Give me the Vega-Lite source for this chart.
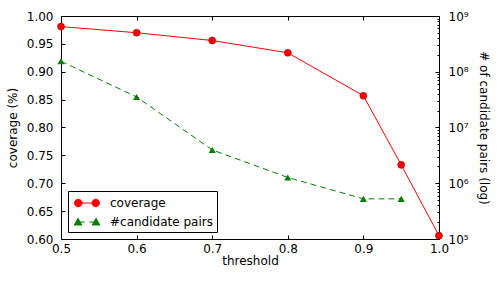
{
  "$schema": "https://vega.github.io/schema/vega-lite/v6.json",
  "width": 378,
  "height": 223,
  "autosize": "none",
  "padding": {"left": 61, "top": 16, "right": 60, "bottom": 42},
  "config": {
    "font": "DejaVu Sans",
    "view": {"stroke": "black", "strokeWidth": 1},
    "axis": {
      "grid": false,
      "labelFlush": false,
      "domainColor": "black",
      "tickColor": "black",
      "labelColor": "black",
      "titleColor": "black",
      "labelFontSize": 12,
      "titleFontSize": 12,
      "titleFontWeight": "normal",
      "labelFont": "DejaVu Sans",
      "titleFont": "DejaVu Sans"
    }
  },
  "data": {
    "values": [
      {"threshold": 0.5, "coverage": 0.981, "pairs": 154000000},
      {"threshold": 0.6, "coverage": 0.970, "pairs": 35300000},
      {"threshold": 0.7, "coverage": 0.956, "pairs": 3970000},
      {"threshold": 0.8, "coverage": 0.934, "pairs": 1270000},
      {"threshold": 0.9, "coverage": 0.857, "pairs": 525000},
      {"threshold": 0.95, "coverage": 0.733, "pairs": 525000},
      {"threshold": 1.0, "coverage": 0.606, "pairs": null}
    ]
  },
  "layer": [
    {
      "encoding": {
        "x": {
          "field": "threshold", "type": "quantitative",
          "scale": {"domain": [0.5, 1.0], "nice": false, "zero": false},
          "axis": {
            "title": "threshold", "values": [0.5, 0.6, 0.7, 0.8, 0.9, 1.0],
            "format": ".1f", "tickSize": -4, "labelPadding": 8, "titlePadding": 1, "domain": false
          }
        },
        "y": {
          "field": "coverage", "type": "quantitative",
          "scale": {"domain": [0.6, 1.0], "nice": false, "zero": false},
          "axis": {
            "title": "coverage (%)", "values": [0.6, 0.65, 0.7, 0.75, 0.8, 0.85, 0.9, 0.95, 1.0],
            "format": ".2f", "tickSize": -4, "labelPadding": 12, "titlePadding": 7, "domain": false
          }
        },
        "color": {
          "datum": "coverage", "type": "nominal",
          "scale": {"domain": ["coverage", "#candidate pairs"], "range": ["#ff0000", "#008000"]},
          "legend": {
            "title": null,
            "orient": "bottom-left",
            "offset": 7,
            "padding": 4,
            "strokeColor": "black",
            "fillColor": "white",
            "cornerRadius": 0,
            "symbolSize": 225,
            "symbolStrokeWidth": 1,
            "symbolOffset": 7,
            "labelOffset": 15,
            "rowPadding": 5,
            "labelFontSize": 12,
            "labelColor": "black",
            "labelFont": "DejaVu Sans",
            "encode": {
              "symbols": {
                "update": {
                  "shape": {"signal": "datum.value === 'coverage' ? 'M-1.16,0L1.16,0M-1.66,0a0.5,0.5 0 1,0 1,0a0.5,0.5 0 1,0 -1,0M0.66,0a0.5,0.5 0 1,0 1,0a0.5,0.5 0 1,0 -1,0' : 'M-1.2,0L-0.3,0M0.3,0L1.2,0M-1.2,-0.5L-0.7,0.4L-1.7,0.4ZM1.2,-0.5L1.7,0.4L0.7,0.4Z'"},
                  "fill": {"signal": "datum.value === 'coverage' ? '#ff0000' : '#008000'"},
                  "stroke": {"signal": "datum.value === 'coverage' ? '#ff0000' : '#008000'"},
                  "strokeWidth": {"value": 1},
                  "opacity": {"value": 1},
                  "fillOpacity": {"value": 1}
                }
              }
            }
          }
        }
      },
      "layer": [
        {"mark": {"type": "line", "strokeWidth": 1, "clip": false}},
        {"mark": {"type": "point", "shape": "circle", "filled": true, "size": 50, "opacity": 1, "stroke": "#8b0000", "strokeWidth": 0.5, "clip": false}}
      ]
    },
    {
      "encoding": {
        "x": {
          "field": "threshold", "type": "quantitative",
          "scale": {"domain": [0.5, 1.0], "nice": false, "zero": false},
          "axis": {
            "orient": "top", "title": null, "labels": false, "domain": false,
            "values": [0.5, 0.6, 0.7, 0.8, 0.9, 1.0], "tickSize": -4
          }
        },
        "y": {
          "field": "pairs", "type": "quantitative",
          "scale": {"type": "log", "domain": [100000, 1000000000], "nice": false},
          "axis": {
            "orient": "right",
            "title": "# of candidate pairs (log)",
            "domain": false,
            "values": [100000, 200000, 300000, 400000, 500000, 600000, 700000, 800000, 900000,
                       1000000, 2000000, 3000000, 4000000, 5000000, 6000000, 7000000, 8000000, 9000000,
                       10000000, 20000000, 30000000, 40000000, 50000000, 60000000, 70000000, 80000000, 90000000,
                       100000000, 200000000, 300000000, 400000000, 500000000, 600000000, 700000000, 800000000, 900000000,
                       1000000000],
            "labelExpr": "indexof([100000,1000000,10000000,100000000,1000000000], datum.value) >= 0 ? '10' + ['⁵','⁶','⁷','⁸','⁹'][round(log(datum.value)/LN10) - 5] : ''",
            "tickSize": {"condition": {"test": "indexof([100000,1000000,10000000,100000000,1000000000], datum.value) >= 0", "value": -4}, "value": -2},
            "labelPadding": 13,
            "titlePadding": 8
          }
        },
        "color": {"datum": "#candidate pairs", "type": "nominal"}
      },
      "layer": [
        {"mark": {"type": "line", "strokeWidth": 1, "strokeDash": [6, 4], "clip": false}},
        {"mark": {"type": "point", "shape": "triangle-up", "filled": true, "size": 50, "opacity": 1, "clip": false}}
      ]
    }
  ],
  "resolve": {"scale": {"y": "independent"}, "axis": {"x": "independent"}}
}
